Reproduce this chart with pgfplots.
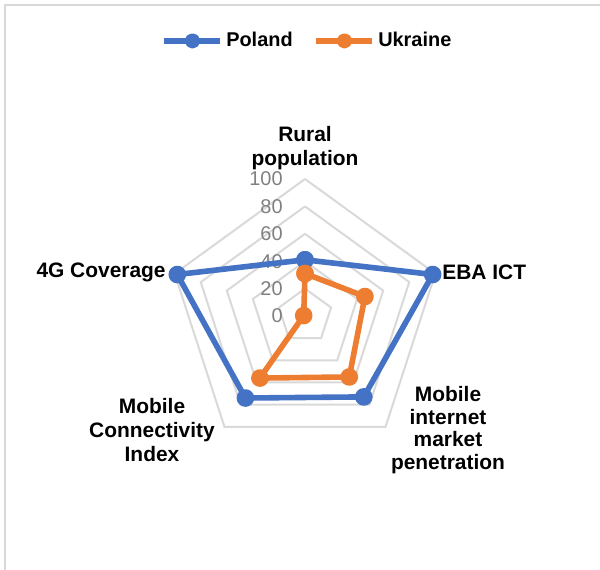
\documentclass[border=0pt]{standalone}
\usepackage{pgfplots}
\pgfplotsset{compat=1.18}
\usepgfplotslibrary{polar}
\usepackage{fontspec}
\setmainfont{Liberation Sans}
\definecolor{poland}{HTML}{4472C4}
\definecolor{ukraine}{HTML}{ED7D31}
\definecolor{gridgray}{HTML}{D9D9D9}
\definecolor{tickgray}{HTML}{808080}

\begin{document}
\begin{tikzpicture}
\useasboundingbox (0,0) rectangle (300bp,285bp);
\draw[gridgray, line width=0.8bp] (2.5bp,0) -- (2.5bp,282.5bp) -- (300bp,282.5bp);
\begin{polaraxis}[
  at={(152.5bp,127bp)}, anchor=center,
  scale only axis, width=137bp, height=137bp,
  ymin=0, ymax=100, hide axis, clip=false,
  legend columns=2,
  legend style={draw=none, fill=none, at={(0.511,1.504)}, anchor=center,
    font=\bfseries\fontsize{10}{12}\selectfont,
    nodes={inner sep=1.5bp},
    /tikz/every even column/.append style={column sep=9bp}},
  legend image code/.code={\draw[mark repeat=2,mark phase=2,#1,mark size=2.4bp]
    plot coordinates {(0bp,0bp) (14bp,0bp) (28bp,0bp)};},
]
% pentagon grid
\pgfplotsinvokeforeach{20,40,60,80,100}{
  \addplot[gridgray, line width=1bp, mark=none, forget plot]
    coordinates {(90,#1) (18,#1) (-54,#1) (-126,#1) (-198,#1) (90,#1)};
}
% value labels on the vertical spoke
\pgfplotsinvokeforeach{0,20,40,60,80,100}{
  \node[anchor=east, text=tickgray, font=\fontsize{10}{12}\selectfont,
    inner sep=0pt, xshift=-11bp] at (axis cs:90,#1) {#1};
}
\addplot[poland, line width=2.8bp, line join=round, mark=*, mark size=3bp,
  mark options={solid, fill=poland, draw=poland}]
  coordinates {(90,41) (18,98) (-54,73) (-126,74) (-198,98) (90,41)};
\addlegendentry{Poland}
\addplot[ukraine, line width=2.8bp, line join=round, mark=*, mark size=3bp,
  mark options={solid, fill=ukraine, draw=ukraine}]
  coordinates {(90,31) (18,46) (-54,55) (-126,56) (-198,1) (90,31)};
\addlegendentry{Ukraine}
\end{polaraxis}
\begin{scope}[every node/.style={font=\bfseries\fontsize{10.5}{12.2}\selectfont, align=center, inner sep=0pt}]
\node at (152.5bp,211bp) {Rural\\population};
\node[anchor=east] at (83bp,149bp) {4G Coverage};
\node[anchor=west] at (221bp,149bp) {EBA ICT};
\node[font=\bfseries\fontsize{10.5}{11.4}\selectfont] at (224bp,70bp) {Mobile\\internet\\market\\penetration};
\node at (76bp,70bp) {Mobile\\Connectivity\\Index};
\end{scope}
\end{tikzpicture}
\end{document}
